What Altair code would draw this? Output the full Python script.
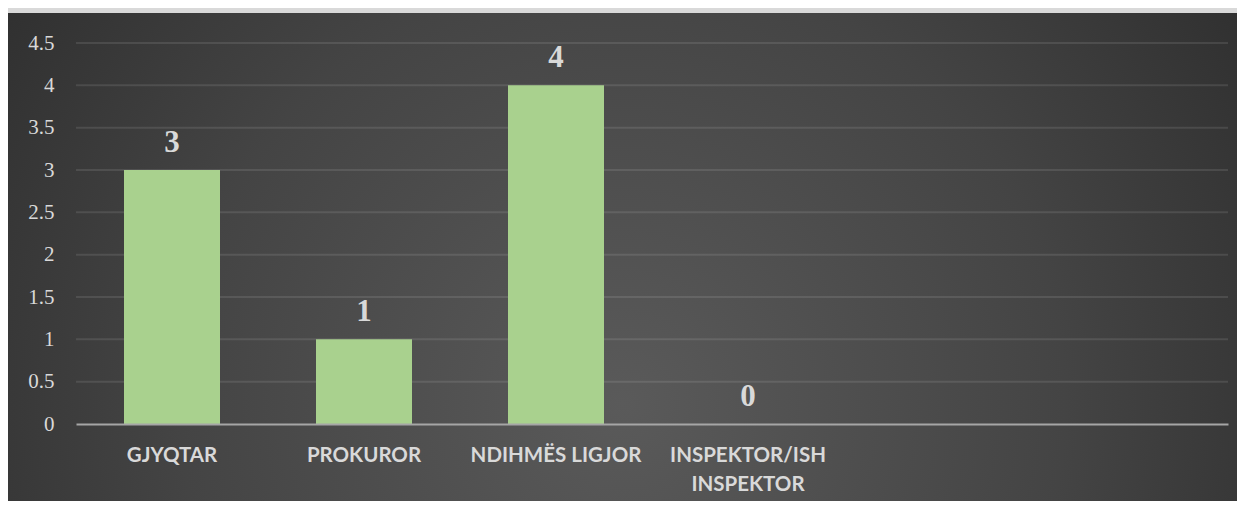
import altair as alt
import pandas as pd

categories = ["GJYQTAR", "PROKUROR", "NDIHMËS LIGJOR", "INSPEKTOR/ISH INSPEKTOR"]
values = [3, 1, 4, 0]
empty_slots = [" ", "  "]
y_ticks = [0, 0.5, 1, 1.5, 2, 2.5, 3, 3.5, 4, 4.5]

W, H = 1152, 381
PAD = {"left": 68, "top": 35, "right": 9, "bottom": 77}

df = pd.DataFrame({"cat": categories, "val": values})
grid_df = pd.DataFrame({"val": y_ticks[1:]})
bg_df = pd.DataFrame({"k": [0]})

label_color = "#d9d9d9"

x_enc = alt.X(
    "cat:N",
    sort=None,
    scale=alt.Scale(domain=categories + empty_slots, paddingInner=0.5, paddingOuter=0.25),
    axis=alt.Axis(
        title=None,
        labelAngle=0,
        labelFont="Lato",
        labelFontWeight="bold",
        labelFontSize=20.5,
        labelColor=label_color,
        labelPadding=21,
        labelBaseline="top",
        labelLineHeight=29,
        ticks=False,
        domain=True,
        domainColor="#a6a6a6",
        domainWidth=2,
        grid=False,
        zindex=1,
        labelExpr="datum.label == 'INSPEKTOR/ISH INSPEKTOR' ? ['INSPEKTOR/ISH', 'INSPEKTOR'] : datum.label",
    ),
)

y_axis = alt.Axis(
    title=None,
    values=y_ticks,
    format="~g",
    grid=False,
    domain=False,
    ticks=False,
    labelFont="Liberation Serif",
    labelFontSize=21,
    labelColor=label_color,
    labelPadding=22,
    zindex=1,
)
y_scale = alt.Scale(domain=[0, 4.5], nice=False)

background = alt.Chart(bg_df).mark_rect(
    color=alt.Gradient(
        gradient="radial",
        x1=0.5, y1=0.62, x2=0.5, y2=0.62, r1=0, r2=0.72,
        stops=[
            alt.GradientStop(color="#5a5a5a", offset=0),
            alt.GradientStop(color="#444444", offset=0.5),
            alt.GradientStop(color="#262626", offset=1),
        ],
    )
).encode(
    x=alt.value(-68), x2=alt.value(W + 9), y=alt.value(-30), y2=alt.value(H + 77)
)

gridlines = alt.Chart(grid_df).mark_rule(color="#ffffff", opacity=0.1, strokeWidth=2).encode(
    y=alt.Y("val:Q", scale=y_scale, axis=y_axis),
    x=alt.value(0),
    x2=alt.value(W),
)

bars = alt.Chart(df).mark_bar(color="#a9d18e").encode(
    x=x_enc,
    y=alt.Y("val:Q", scale=y_scale, axis=y_axis),
)

texts = alt.Chart(df).mark_text(
    font="Liberation Serif",
    fontWeight="bold",
    fontSize=31,
    color=label_color,
    baseline="alphabetic",
    dy=-18,
).encode(
    x=x_enc,
    y=alt.Y("val:Q", scale=y_scale, axis=y_axis),
    text=alt.Text("val:Q"),
)

chart = alt.layer(background, gridlines, bars, texts).properties(
    width=W,
    height=H,
    autosize=alt.AutoSizeParams(type="none"),
    padding=PAD,
    background="#d9d9d9",
).configure_view(stroke=None)

chart.save("out.html", embed_options={"renderer": "svg", "actions": False})
